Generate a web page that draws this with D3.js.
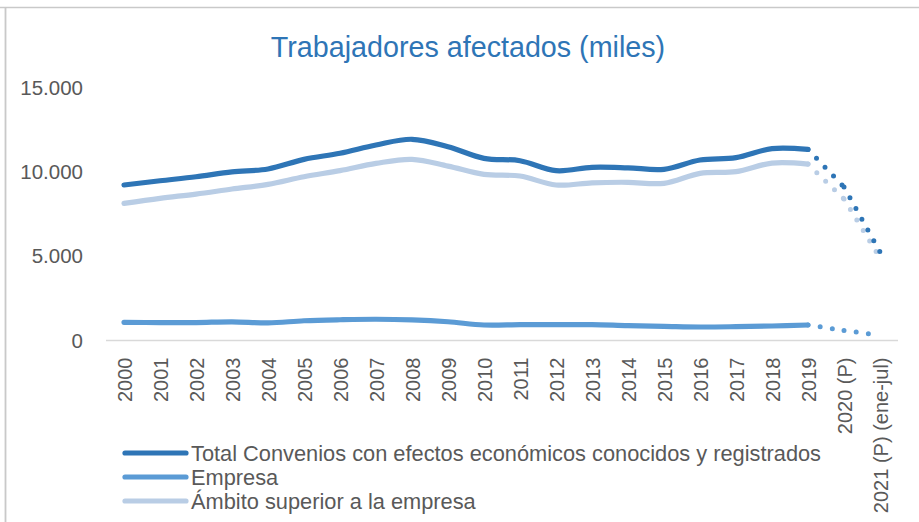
<!DOCTYPE html>
<html><head><meta charset="utf-8">
<script src="https://cdn.jsdelivr.net/npm/d3@7"></script>
<style>html,body{margin:0;padding:0;background:#fff;}svg{display:block;}text{font-family:"Liberation Sans",Arial,sans-serif;}</style>
</head><body>
<script>
const categories = ["2000","2001","2002","2003","2004","2005","2006","2007","2008","2009","2010","2011","2012","2013","2014","2015","2016","2017","2018","2019","2020 (P)","2021 (P) (ene-jul)"];
// thousands of workers (miles)
const totalValues   = [9220,9470,9710,10000,10170,10740,11100,11590,11930,11490,10800,10660,10070,10270,10240,10150,10700,10840,11380,11330,9100,5250];
const empresaValues = [1080,1060,1060,1110,1040,1170,1230,1260,1220,1110,920,940,940,940,880,840,800,820,860,920,600,300];
const ambitoValues  = [8130,8430,8680,8980,9260,9710,10070,10500,10740,10340,9850,9750,9220,9350,9380,9320,9910,10010,10520,10460,8390,4900];
const yTicks = [0,5000,10000,15000];
const yTickLabels = ["0","5.000","10.000","15.000"];
const seriesNames = ["Total Convenios con efectos económicos conocidos y registrados","Empresa","Ámbito superior a la empresa"];
const solidCount = 20; // 2000..2019 solid, then provisional dotted

const W = 919, H = 522;
const colors = ["#2E75B6","#5B9BD5","#B9CDE5"];
const svg = d3.select("body").append("svg").attr("width",W).attr("height",H);
svg.append("rect").attr("width",W).attr("height",H).attr("fill","#fff");
// chart border
svg.append("line").attr("x1",0).attr("x2",W).attr("y1",7.5).attr("y2",7.5).attr("stroke","#c9c9c9").attr("stroke-width",1.5);
svg.append("line").attr("x1",5.5).attr("x2",5.5).attr("y1",7).attr("y2",H).attr("stroke","#c9c9c9").attr("stroke-width",1.8);

const x = d3.scalePoint().domain(categories).range([106,898]).padding(0.5);
const y = d3.scaleLinear().domain([0,15000]).range([340.5, 87.5]);

svg.append("text").attr("x",468).attr("y",57).attr("text-anchor","middle")
  .attr("font-size",28.7).attr("fill","#2E75B6").text("Trabajadores afectados (miles)");

// y axis labels
const ya = svg.append("g").attr("transform","translate(83,0)")
  .call(d3.axisLeft(y).tickValues(yTicks).tickSize(0).tickPadding(0).tickFormat((d,i)=>yTickLabels[i]));
ya.select(".domain").remove();
ya.selectAll("text").attr("font-size",20.5).attr("fill","#595959").attr("font-family","Liberation Sans");

// x axis
const xa = svg.append("g").attr("transform","translate(0,340.5)")
  .call(d3.axisBottom(x).tickSize(0).tickPadding(0));
xa.select(".domain").attr("stroke","#d9d9d9").attr("stroke-width",1.5).attr("d","M106,0H898");
xa.selectAll(".tick text").attr("font-size",20).attr("fill","#595959").attr("font-family","Liberation Sans")
  .attr("text-anchor","end").attr("dy","0.35em")
  .attr("transform","translate(0,17) rotate(-90)").attr("y",0).attr("x",0);

const all = [totalValues, empresaValues, ambitoValues];
const drawOrder = [1,2,0];
const line = d3.line().x(d=>x(d.c)).y(d=>y(d.v)).curve(d3.curveCardinal.tension(0));
drawOrder.forEach(si=>{
  const vals = all[si];
  const pts = categories.map((c,i)=>({c, v: vals[i]}));
  const solid = pts.slice(0, solidCount);
  svg.append("path").attr("d", line(solid)).attr("fill","none").attr("stroke",colors[si])
    .attr("stroke-width",5.2).attr("stroke-linecap","round").attr("stroke-linejoin","round");
  for (let i = solidCount-1; i < pts.length-1; i++) {
    svg.append("path").attr("d", d3.line().x(d=>x(d.c)).y(d=>y(d.v))([pts[i],pts[i+1]]))
      .attr("fill","none").attr("stroke",colors[si]).attr("stroke-width",5)
      .attr("stroke-linecap","round").attr("stroke-dasharray","0 12.3");
  }
});

// legend
const lg = svg.append("g");
seriesNames.forEach((n,i)=>{
  const cy = 453 + i*24;
  lg.append("line").attr("x1",125).attr("x2",186).attr("y1",cy).attr("y2",cy)
    .attr("stroke",colors[i]).attr("stroke-width",5.2).attr("stroke-linecap","round");
  lg.append("text").attr("x",191).attr("y",cy).attr("dy","0.35em").attr("font-size",21.8)
    .attr("fill","#595959").text(n);
});
</script>
</body></html>
